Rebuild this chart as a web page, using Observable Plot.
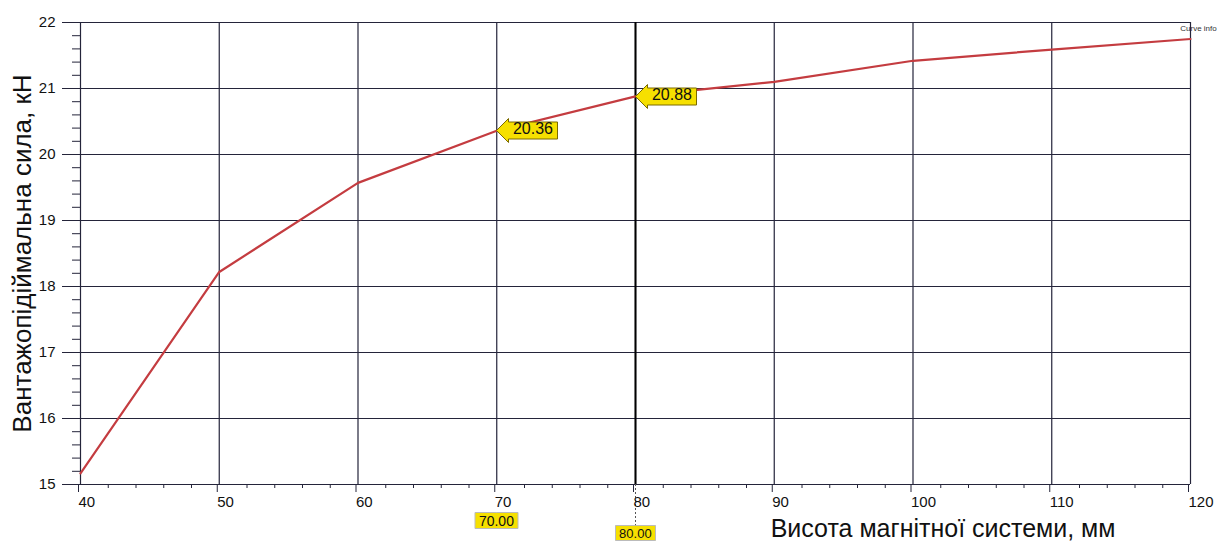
<!DOCTYPE html>
<html>
<head>
<meta charset="utf-8">
<script src="https://cdn.jsdelivr.net/npm/d3@7"></script>
<script src="https://cdn.jsdelivr.net/npm/@observablehq/plot@0.6"></script>
<style>
  html, body { margin: 0; padding: 0; background: #fff; }
  #chart { position: relative; width: 1223px; height: 542px; }
</style>
</head>
<body>
<div id="chart"></div>
<script>
// Data
const heights = [40, 50, 60, 70, 80, 90, 100, 110, 120];           // mm
const forces  = [15.17, 18.22, 19.57, 20.36, 20.88, 21.10, 21.42, 21.59, 21.75]; // kN
const markedHeights = [70, 80];
const markedForces = [20.36, 20.88];
const xTicks = [40, 50, 60, 70, 80, 90, 100, 110, 120];
const yTicks = [15, 16, 17, 18, 19, 20, 21, 22];
const xMinor = d3.range(40, 121, 2).filter(v => v % 10 !== 0);
const yMinor = d3.range(75, 110, 1).map(v => v / 5).filter(v => !Number.isInteger(v));
const xLabel = "Висота магнітної системи, мм";
const yLabel = "Вантажопідіймальна сила, кН";
const cornerLabel = "Curve info";

const data = heights.map((h, i) => ({h, f: forces[i]}));
const marks = markedHeights.map((h, i) => ({h, f: markedForces[i]}));

const ink = "#24243a";
const yellow = "#f6e000";
const pad = "\u00a0";

const chart = Plot.plot({
  width: 1223,
  height: 542,
  marginLeft: 80,
  marginRight: 33,
  marginTop: 22,
  marginBottom: 58,
  style: {fontFamily: "'Liberation Sans', Arial, sans-serif", background: "#fff", color: "#111"},
  x: {domain: [40, 120]},
  y: {domain: [15, 22]},
  marks: [
    Plot.gridX(xTicks, {stroke: ink, strokeOpacity: 1, strokeWidth: 1.2}),
    Plot.gridY(yTicks, {stroke: ink, strokeOpacity: 1, strokeWidth: 1.2}),
    Plot.ruleX([80], {stroke: "#000", strokeWidth: 2}),
    Plot.ruleX([80], {y1: 15, y2: 14.35, stroke: "#555", strokeDasharray: "2,2", strokeWidth: 1}),
    Plot.axisY({ticks: yMinor, tickSize: 8, tickFormat: () => "", label: null, stroke: ink}),
    Plot.axisY({ticks: yTicks, tickSize: 18, tickPadding: 7, fontSize: 15, label: null, stroke: ink, tickFormat: d => String(d)}),
    Plot.axisX({ticks: xMinor, tickSize: 4, tickFormat: () => "", label: null, stroke: ink}),
    Plot.axisX({ticks: xTicks, tickSize: 8, tickPadding: 4, fontSize: 15, label: null, stroke: ink, textAnchor: "start", dx: -2, tickFormat: d => String(d)}),
    Plot.line(data, {x: "h", y: "f", stroke: "#c43c40", strokeWidth: 2.2}),
    Plot.tip(marks, {
      x: "h", y: "f", title: d => pad + d.f.toFixed(2) + pad,
      anchor: "left", fill: yellow, stroke: "#7a6a00", pointerSize: 24, textPadding: 0,
      fontSize: 16, lineHeight: 0.9, pathFilter: "none"
    }),
    Plot.tip(marks.slice(0, 1), {
      x: "h", title: d => "\u00a0" + d.h.toFixed(2) + "\u00a0",
      frameAnchor: "bottom", anchor: "top", pointerSize: 0, dy: 28,
      fill: yellow, stroke: "#bbb", textPadding: 0, fontSize: 14, pathFilter: "none"
    }),
    Plot.tip(marks.slice(1, 2), {
      x: "h", title: d => "\u00a0" + d.h.toFixed(2) + "\u00a0",
      frameAnchor: "bottom", anchor: "top", pointerSize: 0, dy: 41,
      fill: yellow, stroke: "#bbb", textPadding: 0, fontSize: 13, pathFilter: "none"
    }),
    Plot.text([yLabel], {text: d => d, frameAnchor: "left", textAnchor: "middle", dx: -58, rotate: -90, fontSize: 26, fill: "#111"}),
    Plot.text([xLabel], {text: d => d, frameAnchor: "bottom-right", textAnchor: "end", dx: -75, dy: 52, fontSize: 25, fill: "#111"}),
    Plot.text([cornerLabel], {text: d => d, frameAnchor: "top-right", textAnchor: "middle", dx: 8, dy: 3, fontSize: 8, fill: "#333"})
  ]
});
document.getElementById("chart").appendChild(chart);
</script>
</body>
</html>
